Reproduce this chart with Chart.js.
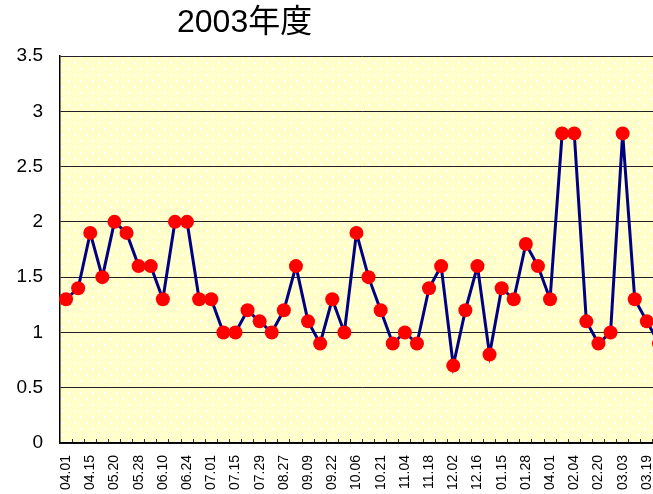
<!DOCTYPE html>
<html>
<head>
<meta charset="utf-8">
<script src="https://cdn.jsdelivr.net/npm/chart.js@4"></script>
<style>
    html, body { margin: 0; padding: 0; background: #fff; overflow: hidden; }
    #wrap { position: relative; width: 680px; height: 494px; }
    #title {
        position: absolute; left: 177px; top: 2px;
        font-family: "Liberation Sans", "Noto Sans CJK JP", sans-serif;
        font-size: 32px; line-height: 38px; color: #000; white-space: nowrap;
    }
    #demandChart { position: absolute; left: 0; top: 0; }
</style>
</head>
<body>
<div id="wrap">
    <canvas id="demandChart" width="680" height="494"></canvas>
    <div id="title">2003年度</div>
</div>
<script>
const dateLabels = [
    "04.01", "04.08", "04.15", "05.13", "05.20", "05.23", "05.28", "06.03", "06.10", "06.17",
    "06.24", "06.27", "07.01", "07.08", "07.15", "07.22", "07.29", "08.20", "08.27", "09.02",
    "09.09", "09.16", "09.22", "09.30", "10.06", "10.14", "10.21", "10.28", "11.04", "11.11",
    "11.18", "11.25", "12.02", "12.09", "12.16", "01.08", "01.15", "01.21", "01.28", "01.31",
    "04.01", "02.01", "02.04", "02.13", "02.20", "02.26", "03.03", "03.10", "03.19", "03.24"
];
const values = [
    1.3, 1.4, 1.9, 1.5, 2.0, 1.9, 1.6, 1.6, 1.3, 2.0,
    2.0, 1.3, 1.3, 1.0, 1.0, 1.2, 1.1, 1.0, 1.2, 1.6,
    1.1, 0.9, 1.3, 1.0, 1.9, 1.5, 1.2, 0.9, 1.0, 0.9,
    1.4, 1.6, 0.7, 1.2, 1.6, 0.8, 1.4, 1.3, 1.8, 1.6,
    1.3, 2.8, 2.8, 1.1, 0.9, 1.0, 2.8, 1.3, 1.1, 0.9
];
const yMin = 0;
const yMax = 3.5;
const yStep = 0.5;

(function renderChart() {
    const canvas = document.getElementById("demandChart");
    if (!canvas || typeof Chart === "undefined") {
        return;
    }

    // dotted pale-yellow fill like the Excel plot area
    const tile = document.createElement("canvas");
    tile.width = 12;
    tile.height = 12;
    const tctx = tile.getContext("2d");
    for (let y = 0; y < 12; y++) {
        for (let x = 0; x < 12; x++) {
            tctx.fillStyle = (x + y) % 2 === 0 ? "#ffffd8" : "#fffcbc";
            tctx.fillRect(x, y, 1, 1);
        }
    }
    tctx.fillStyle = "#ffffff";
    tctx.fillRect(2, 2, 2, 2);
    tctx.fillRect(8, 8, 2, 2);

    const plotBackground = {
        id: "plotBackground",
        beforeDraw(chart) {
            const area = chart.chartArea;
            const ctx = chart.ctx;
            ctx.save();
            ctx.fillStyle = ctx.createPattern(tile, "repeat");
            ctx.fillRect(area.left, area.top, area.right - area.left, area.bottom - area.top);
            ctx.restore();
        },
    };

    new Chart(canvas.getContext("2d"), {
        type: "line",
        data: {
            labels: dateLabels,
            datasets: [
                {
                    data: values,
                    borderColor: "#000080",
                    borderWidth: 3,
                    tension: 0,
                    pointRadius: 7,
                    pointHoverRadius: 7,
                    pointBackgroundColor: "#ff0000",
                    pointBorderColor: "#ff0000",
                    pointBorderWidth: 0,
                },
            ],
        },
        options: {
            responsive: false,
            animation: false,
            layout: {
                padding: { top: 56, right: 15, left: 0, bottom: 0 },
            },
            plugins: {
                legend: { display: false },
                title: { display: false },
                tooltip: { enabled: false },
            },
            scales: {
                x: {
                    offset: true,
                    grid: {
                        offset: true,
                        drawOnChartArea: false,
                        drawTicks: true,
                        tickLength: -4,
                        color: "#333",
                    },
                    border: { display: true, color: "#000", width: 1.5 },
                    ticks: {
                        autoSkip: false,
                        minRotation: 90,
                        maxRotation: 90,
                        padding: 16,
                        color: "#000",
                        font: { family: "Liberation Sans", size: 14 },
                        callback: (val, i) => (i % 2 === 0 ? dateLabels[i] : ""),
                    },
                    afterFit(scale) {
                        scale.height = 51;
                        scale.paddingLeft = 0;
                        scale.paddingRight = 0;
                    },
                },
                y: {
                    min: yMin,
                    max: yMax,
                    grid: {
                        color: "#222",
                        lineWidth: 1,
                        drawTicks: false,
                    },
                    border: { display: true, color: "#000", width: 1.5 },
                    ticks: {
                        stepSize: yStep,
                        padding: 17,
                        color: "#000",
                        font: { family: "Liberation Sans", size: 19 },
                        callback: (val) => String(val),
                    },
                    afterFit(scale) {
                        scale.width = 60;
                    },
                },
            },
        },
        plugins: [plotBackground],
    });
})();
</script>
</body>
</html>
